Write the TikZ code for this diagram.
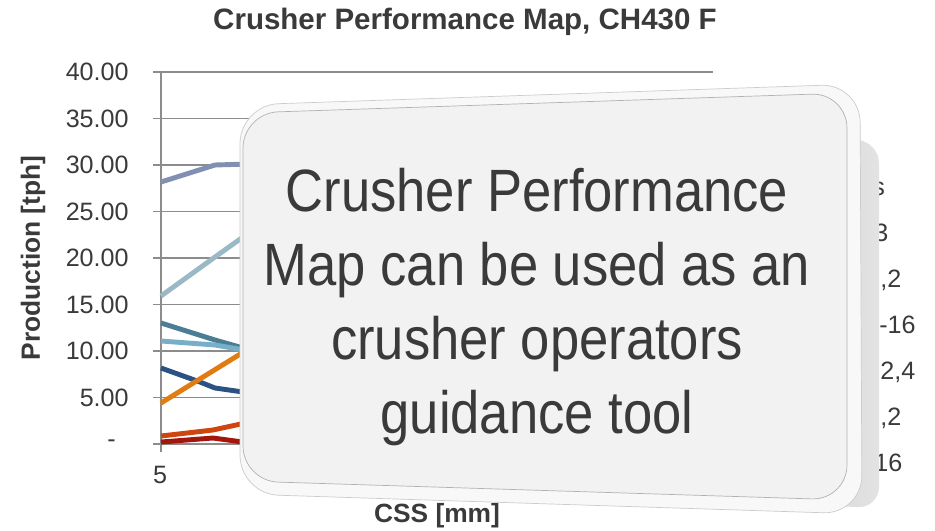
\documentclass[tikz,border=0pt]{standalone}
\usepackage{fontspec}
\setmainfont{Liberation Sans}
\newfontfamily\tilefont[FakeStretch=0.88]{Liberation Sans}
\usepackage{tikz}
\definecolor{gridgray}{HTML}{8C8C8C}
\definecolor{labelgray}{HTML}{3A3A3A}
\definecolor{serA}{HTML}{8190B2}
\definecolor{serB}{HTML}{9AB8C6}
\definecolor{serC}{HTML}{4B7E94}
\definecolor{serD}{HTML}{78AFC8}
\definecolor{serE}{HTML}{2B5282}
\definecolor{serF}{HTML}{E07C12}
\definecolor{serG}{HTML}{CF4510}
\definecolor{serH}{HTML}{A3160E}
\definecolor{tileface}{HTML}{F2F2F2}
\definecolor{tilerim}{HTML}{F8F8F8}
\definecolor{tileside}{HTML}{D2D2D2}
\tikzset{grid line/.style={draw=gridgray, line width=1pt},
    series/.style={line width=2.8pt, line join=round},
    ticklabel/.style={anchor=east, inner sep=0pt, text=labelgray,
        font=\fontsize{14.3}{16}\selectfont},
    legendtext/.style={anchor=base west, inner sep=0pt, text=labelgray,
        font=\fontsize{14.3}{16}\selectfont},
    axistitle/.style={inner sep=0pt, text=labelgray,
        font=\bfseries\fontsize{15}{17}\selectfont},
    tiletext/.style={align=center, inner sep=0pt, text=labelgray,
        font=\tilefont\fontsize{34}{42.2}\selectfont}}

\begin{document}
\begin{tikzpicture}[x=0.02cm, y=-0.02cm]
    \useasboundingbox (0,0) rectangle (935,530);
    \node[axistitle, anchor=base, font=\bfseries\fontsize{16.8}{19}\selectfont] (title) at (465,30) {Crusher Performance Map, CH430 F};
    \node[axistitle, rotate=90] (ytitle) at (33,258) {Production [tph]};
    \node[axistitle, anchor=base] (xtitle) at (437,522) {CSS [mm]};
    \foreach \v/\lab in {5/5.00, 10/10.00, 15/15.00, 20/20.00, 25/25.00,
        30/30.00, 35/35.00, 40/40.00}{
        \draw[grid line] (153,444-9.3*\v) -- (713,444-9.3*\v);
        \node[ticklabel] (tick\v) at (129,444-9.3*\v) {\lab};
    }
    \draw[grid line] (153,444) -- (713,444);
    \node[ticklabel] (tick0) at (116,444) {-};
    \coordinate (axistop) at (161,72);
    \coordinate (axisfoot) at (161,452);
    \draw[grid line] (axistop) -- (axisfoot);
    \node[ticklabel, anchor=center] (xtick5) at (160,475) {5};

    \draw[series, serA] (161,182) -- (215,165) -- (250,164);
    \draw[series, serB] (161,296) -- (215,257) -- (250,232);
    \draw[series, serC] (161,323) -- (215,340) -- (250,350);
    \draw[series, serD] (161,341) -- (215,345) -- (250,351);
    \draw[series, serE] (161,368) -- (200,382) -- (215,388) -- (250,393);
    \draw[series, serF] (161,403) -- (250,348);
    \draw[series, serG] (161,436) -- (213,430) -- (250,422);
    \draw[series, serH] (161,442) -- (213,438) -- (250,443);

    \node[legendtext] (leg1) at (872,195) {s};
    \node[legendtext] (leg2) at (874,241) {3};
    \node[legendtext] (leg3) at (880,287) {,2};
    \node[legendtext] (leg4) at (879,333) {-16};
    \node[legendtext] (leg5) at (880,379) {2,4};
    \node[legendtext] (leg6) at (880,425) {,2};
    \node[legendtext] (leg7) at (874,471) {16};

    \shade[left color=gray!45, right color=gray!22, rounded corners=12pt] (700,125) -- (879,142) -- (879,508) -- (700,500) -- cycle;
    \filldraw[fill=tilerim, draw=gray!40, rounded corners=22pt] (240,105) -- (860,84) -- (862,514) -- (240,494) -- cycle;
    \filldraw[fill=tileface, draw=gray!60, rounded corners=20pt] (243,113) -- (847,93) -- (847,500) -- (243,481) -- cycle;
    \node[tiletext] (message) at (537,307) {Crusher Performance\\Map can be used as an\\crusher operators\\guidance tool};
\end{tikzpicture}
\end{document}
